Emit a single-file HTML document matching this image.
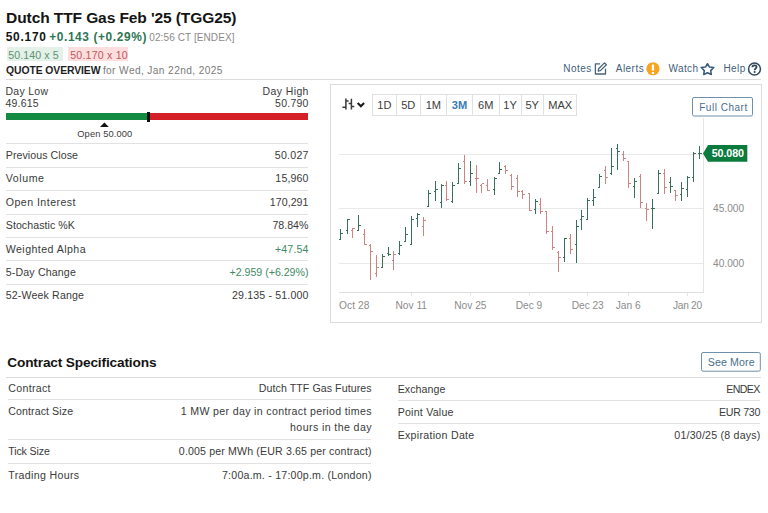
<!DOCTYPE html>
<html><head><meta charset="utf-8">
<style>
*{margin:0;padding:0;box-sizing:border-box}
html,body{width:768px;height:513px;overflow:hidden;background:#fff;font-family:"Liberation Sans",sans-serif}
.t{position:absolute;white-space:pre;line-height:1;}
.a{position:absolute}
svg{position:absolute;left:0;top:0}
</style></head><body>
<svg width="768" height="513" viewBox="0 0 768 513" shape-rendering="crispEdges">
<!-- bid/ask boxes -->
<rect x="7" y="47" width="55.5" height="14" fill="#e4f1e8"/>
<rect x="68" y="47" width="60" height="14" fill="#fbdfdf"/>
<!-- header separator -->
<rect x="5.5" y="79" width="755.5" height="1" fill="#dcdcdc"/>
<!-- left panel row lines -->
<g fill="#e2e2e2">
<rect x="5.5" y="143" width="302.5" height="1"/>
<rect x="5.5" y="166.5" width="302.5" height="1"/>
<rect x="5.5" y="190" width="302.5" height="1"/>
<rect x="5.5" y="213.5" width="302.5" height="1"/>
<rect x="5.5" y="236.8" width="302.5" height="1"/>
<rect x="5.5" y="260.2" width="302.5" height="1"/>
<rect x="5.5" y="283.6" width="302.5" height="1"/>
</g>
<!-- day range bar -->
<rect x="6" y="113" width="141.5" height="7" fill="#138a42"/>
<rect x="149" y="113" width="159" height="7" fill="#d31f26"/>
<rect x="147" y="112" width="2.5" height="9.5" fill="#111"/>
<!-- chart box -->
<rect x="330.5" y="84.5" width="431" height="238" fill="none" stroke="#dcdcdc" stroke-width="1"/>
<!-- toolbar -->
<rect x="372.5" y="94.5" width="204" height="21" fill="none" stroke="#e0e0e0"/>
<g fill="#e0e0e0">
<rect x="396" y="95" width="1" height="20"/>
<rect x="420" y="95" width="1" height="20"/>
<rect x="446" y="95" width="1" height="20"/>
<rect x="472" y="95" width="1" height="20"/>
<rect x="498.5" y="95" width="1" height="20"/>
<rect x="521" y="95" width="1" height="20"/>
<rect x="543" y="95" width="1" height="20"/>
</g>
<!-- gridlines -->
<g fill="#e9e9e9">
<rect x="339" y="153.5" width="364.5" height="1"/>
<rect x="339" y="208" width="364.5" height="1"/>
<rect x="339" y="263" width="364.5" height="1"/>
</g>
<rect x="339" y="292.2" width="365" height="1" fill="#dedede"/>
<rect x="703" y="118" width="1" height="175" fill="#e4e4e4"/>
<g fill="#e4e4e4">
<rect x="411" y="293" width="1" height="3"/>
<rect x="470" y="293" width="1" height="3"/>
<rect x="528.5" y="293" width="1" height="3"/>
<rect x="587.3" y="293" width="1" height="3"/>
<rect x="628" y="293" width="1" height="3"/>
<rect x="687" y="293" width="1" height="3"/>
</g>
<!-- spec lines -->
<rect x="5.5" y="376.5" width="755.5" height="1" fill="#dadada"/>
<g fill="#e2e2e2">
<rect x="8" y="399.3" width="362.5" height="1"/>
<rect x="8" y="439" width="362.5" height="1"/>
<rect x="8" y="462.8" width="362.5" height="1"/>
<rect x="397.5" y="399.6" width="362.5" height="1"/>
<rect x="397.5" y="423.2" width="362.5" height="1"/>
</g>
</svg>
<svg width="768" height="513" viewBox="0 0 768 513">
<!-- open triangle -->
<path d="M100 127L104.4 122.4L108.8 127Z" fill="#111"/>
<!-- Full chart button -->
<rect x="692.5" y="97.5" width="60" height="18.5" rx="1.5" fill="none" stroke="#6f8faa" stroke-width="1"/>
<!-- See more -->
<rect x="701.5" y="352.5" width="58.8" height="18.7" rx="1.5" fill="none" stroke="#6f8faa" stroke-width="1"/>
<!-- price tag -->
<path d="M703 153.4L708 145H747.3V161.8H708Z" fill="#0b7a3d"/>
<!-- bars -->
<g stroke-width="1" fill="none" shape-rendering="crispEdges">
<path d="M340.5 229.2V239.2M338.5 239.0H340.5M340.5 233.0H342.5" stroke="#38705a"/>
<path d="M347.5 218.8V233.8M345.5 230.5H347.5M347.5 219.7H349.5" stroke="#38705a"/>
<path d="M352.5 228.2V238.0M350.5 230.3H352.5M352.5 228.8H354.5" stroke="#cc8580"/>
<path d="M358.5 215.0V230.9M356.5 230.3H358.5M358.5 225.5H360.5" stroke="#38705a"/>
<path d="M364.5 228.8V244.7M362.5 234.5H364.5M364.5 244.2H366.5" stroke="#cc8580"/>
<path d="M370.5 244.0V279.6M368.5 245.3H370.5M370.5 251.5H372.5" stroke="#cc8580"/>
<path d="M376.5 254.7V276.6M374.5 273.2H376.5M376.5 267.3H378.5" stroke="#cc8580"/>
<path d="M382.5 253.9V267.6M380.5 267.6H382.5M382.5 256.2H384.5" stroke="#38705a"/>
<path d="M388.5 246.6V255.6M386.5 253.5H388.5M388.5 254.0H390.5" stroke="#38705a"/>
<path d="M393.5 251.3V269.7M391.5 260.5H393.5M393.5 254.7H395.5" stroke="#cc8580"/>
<path d="M399.5 241.4V254.7M397.5 253.0H399.5M399.5 245.0H401.5" stroke="#38705a"/>
<path d="M405.5 227.4V241.5M403.5 241.0H405.5M405.5 234.2H407.5" stroke="#38705a"/>
<path d="M411.5 216.1V244.2M409.5 244.0H411.5M411.5 219.4H413.5" stroke="#38705a"/>
<path d="M417.5 212.9V227.0M415.5 218.1H417.5M417.5 214.2H419.5" stroke="#38705a"/>
<path d="M423.5 216.5V235.6M421.5 226.4H423.5M423.5 220.0H425.5" stroke="#cc8580"/>
<path d="M428.5 190.2V206.2M426.5 206.2H428.5M428.5 193.1H430.5" stroke="#38705a"/>
<path d="M435.5 180.6V201.2M433.5 191.9H435.5M435.5 189.4H437.5" stroke="#38705a"/>
<path d="M441.5 184.0V208.1M439.5 202.2H441.5M441.5 185.6H443.5" stroke="#38705a"/>
<path d="M446.5 180.6V200.6M444.5 185.6H446.5M446.5 199.4H448.5" stroke="#cc8580"/>
<path d="M452.5 181.9V203.1M450.5 201.9H452.5M452.5 185.6H454.5" stroke="#38705a"/>
<path d="M458.5 162.5V184.4M456.5 183.8H458.5M458.5 168.5H460.5" stroke="#38705a"/>
<path d="M464.5 155.2V184.0M462.5 161.2H464.5M464.5 181.2H466.5" stroke="#cc8580"/>
<path d="M470.5 161.0V185.6M468.5 181.2H470.5M470.5 173.1H472.5" stroke="#38705a"/>
<path d="M476.5 164.8V192.5M474.5 178.1H476.5M476.5 178.5H478.5" stroke="#cc8580"/>
<path d="M481.5 183.5V192.5M479.5 185.0H481.5M481.5 183.8H483.5" stroke="#cc8580"/>
<path d="M487.5 179.4V191.2M485.5 185.0H487.5M487.5 190.6H489.5" stroke="#cc8580"/>
<path d="M494.5 176.9V195.0M492.5 189.8H494.5M494.5 178.1H496.5" stroke="#38705a"/>
<path d="M499.5 161.9V173.5M497.5 173.1H499.5M499.5 169.4H501.5" stroke="#38705a"/>
<path d="M505.5 165.0V174.0M503.5 166.5H505.5M505.5 170.5H507.5" stroke="#cc8580"/>
<path d="M511.5 174.4V190.0M509.5 175.0H511.5M511.5 186.0H513.5" stroke="#cc8580"/>
<path d="M517.5 175.0V197.2M515.5 178.5H517.5M517.5 191.0H519.5" stroke="#cc8580"/>
<path d="M522.5 190.0V198.5M520.5 191.2H522.5M522.5 194.0H524.5" stroke="#cc8580"/>
<path d="M529.5 193.1V210.6M527.5 193.5H529.5M529.5 210.0H531.5" stroke="#cc8580"/>
<path d="M535.5 199.4V213.8M533.5 209.4H535.5M535.5 201.9H537.5" stroke="#38705a"/>
<path d="M540.5 197.5V214.4M538.5 204.0H540.5M540.5 211.2H542.5" stroke="#cc8580"/>
<path d="M546.5 211.2V234.1M544.5 211.6H546.5M546.5 231.0H548.5" stroke="#cc8580"/>
<path d="M552.5 226.0V249.8M550.5 231.0H552.5M552.5 247.9H554.5" stroke="#cc8580"/>
<path d="M558.5 251.1V271.8M556.5 252.0H558.5M558.5 257.2H560.5" stroke="#cc8580"/>
<path d="M564.5 237.5V261.5M562.5 257.2H564.5M564.5 238.1H566.5" stroke="#38705a"/>
<path d="M570.5 233.5V253.5M568.5 238.5H570.5M570.5 249.1H572.5" stroke="#cc8580"/>
<path d="M576.5 220.4V262.9M574.5 244.8H576.5M576.5 226.6H578.5" stroke="#38705a"/>
<path d="M581.5 209.8V230.4M579.5 219.1H581.5M581.5 216.0H583.5" stroke="#38705a"/>
<path d="M587.5 197.5V219.8M585.5 219.8H587.5M587.5 200.0H589.5" stroke="#38705a"/>
<path d="M593.5 189.0V206.0M591.5 200.0H593.5M593.5 197.5H595.5" stroke="#38705a"/>
<path d="M599.5 174.4V188.1M597.5 187.2H599.5M599.5 176.2H601.5" stroke="#38705a"/>
<path d="M605.5 165.6V183.5M603.5 170.6H605.5M605.5 177.2H607.5" stroke="#cc8580"/>
<path d="M611.5 148.1V175.0M609.5 173.5H611.5M611.5 166.2H613.5" stroke="#38705a"/>
<path d="M617.5 144.0V170.0M615.5 148.5H617.5M617.5 151.2H619.5" stroke="#38705a"/>
<path d="M623.5 150.6V160.6M621.5 154.0H623.5M623.5 158.5H625.5" stroke="#cc8580"/>
<path d="M628.5 160.6V187.5M626.5 161.2H628.5M628.5 183.1H630.5" stroke="#cc8580"/>
<path d="M634.5 177.5V198.1M632.5 186.9H634.5M634.5 181.2H636.5" stroke="#38705a"/>
<path d="M640.5 173.5V208.1M638.5 176.2H640.5M640.5 202.5H642.5" stroke="#cc8580"/>
<path d="M646.5 203.1V221.2M644.5 208.8H646.5M646.5 209.0H648.5" stroke="#cc8580"/>
<path d="M652.5 198.8V228.5M650.5 208.5H652.5M652.5 208.4H654.5" stroke="#38705a"/>
<path d="M658.5 170.0V193.8M656.5 193.5H658.5M658.5 173.5H660.5" stroke="#38705a"/>
<path d="M664.5 168.8V194.0M662.5 173.1H664.5M664.5 187.2H666.5" stroke="#cc8580"/>
<path d="M670.5 176.9V193.1M668.5 182.5H670.5M670.5 186.5H672.5" stroke="#38705a"/>
<path d="M675.5 190.0V201.3M673.5 190.3H675.5M675.5 195.0H677.5" stroke="#cc8580"/>
<path d="M681.5 182.4V200.9M679.5 194.0H681.5M681.5 188.2H683.5" stroke="#38705a"/>
<path d="M687.5 176.3V197.2M685.5 189.3H687.5M687.5 177.7H689.5" stroke="#38705a"/>
<path d="M693.5 152.4V182.2M691.5 177.0H693.5M693.5 153.8H695.5" stroke="#38705a"/>
<path d="M699.5 145.8V158.5M697.5 153.8H699.5M699.5 153.1H701.5" stroke="#38705a"/>
</g>
<!-- chart type icon -->
<g stroke="#3a3a3a" stroke-width="1.5" fill="none">
<path d="M345.9 98.6V109.6M342.4 107.3H345.9M345.9 101.1H348.6"/>
<path d="M351.4 98.8V109.6M348.6 103.6H351.4M351.4 106.4H354.3"/>
</g>
<path d="M357.7 103.1L360.9 106.2L364.1 103.1" stroke="#1a1a1a" stroke-width="2.1" fill="none"/>
<!-- notes icon -->
<g stroke="#4a6479" stroke-width="1.3" fill="none" stroke-linejoin="round" stroke-linecap="round">
<path d="M599.6 63.9H595.4V74H605.5V69.2"/>
<path d="M598.2 71L598.6 68.8L604.5 62.9L606.4 64.8L600.4 70.6Z"/>
</g>
<!-- alert -->
<circle cx="652.95" cy="68.75" r="6.6" fill="#f7a51e"/>
<path d="M652.95 64.6V70.6" stroke="#fff" stroke-width="2.3"/>
<rect x="651.8" y="72" width="2.3" height="2" fill="#fff"/>
<!-- star -->
<path d="M707.5 63.7L709.5 67.1L713.8 67.4L710.7 70.6L711.3 74.5L707.5 72.7L703.7 74.5L704.3 70.6L701.2 67.4L705.5 67.1Z" fill="none" stroke="#3b5b78" stroke-width="1.55" stroke-linejoin="round"/>
<!-- help -->
<circle cx="754.5" cy="69" r="5.95" fill="none" stroke="#32495f" stroke-width="1.5"/>
<path d="M752.4 67.3C752.4 66.1 753.3 65.4 754.5 65.4C755.7 65.4 756.6 66.1 756.6 67.1C756.6 68.5 754.6 68.6 754.6 70.2" fill="none" stroke="#2c465c" stroke-width="1.75"/>
<circle cx="754.6" cy="72.1" r="1.0" fill="#2c465c"/>
</svg>
<div class="t" style="top:10.00px;font-size:15.55px;font-weight:700;color:#141414;letter-spacing:-0.115px;left:6.12px;">Dutch TTF Gas Feb &#x27;25 (TGG25)</div>
<div class="t" style="top:32.00px;font-size:11.92px;font-weight:700;color:#141414;letter-spacing:0.754px;left:5.70px;">50.170</div>
<div class="t" style="top:32.00px;font-size:11.92px;font-weight:700;color:#2d7553;letter-spacing:0.606px;left:49.20px;">+0.143 (+0.29%)</div>
<div class="t" style="top:33.00px;font-size:10.0px;font-weight:400;color:#8a8a8a;letter-spacing:0.097px;left:149.30px;">02:56 CT [ENDEX]</div>
<div class="t" style="top:50.00px;font-size:10.61px;font-weight:400;color:#5e9274;letter-spacing:0.078px;left:8.32px;">50.140 x 5</div>
<div class="t" style="top:50.00px;font-size:10.61px;font-weight:400;color:#c4565c;letter-spacing:0.191px;left:70.27px;">50.170 x 10</div>
<div class="t" style="top:66.00px;font-size:10.4px;font-weight:700;color:#1e1e1e;letter-spacing:-0.094px;left:6.08px;">QUOTE OVERVIEW</div>
<div class="t" style="top:66.00px;font-size:10.17px;font-weight:400;color:#7a7a7a;letter-spacing:0.385px;left:102.89px;">for Wed, Jan 22nd, 2025</div>
<div class="t" style="top:64.00px;font-size:10.0px;font-weight:400;color:#3f5f7a;letter-spacing:0.444px;left:563.30px;">Notes</div>
<div class="t" style="top:64.00px;font-size:10.0px;font-weight:400;color:#3f5f7a;letter-spacing:0.467px;left:615.75px;">Alerts</div>
<div class="t" style="top:64.00px;font-size:10.0px;font-weight:400;color:#3f5f7a;letter-spacing:0.433px;left:668.40px;">Watch</div>
<div class="t" style="top:64.00px;font-size:10.0px;font-weight:400;color:#3f5f7a;letter-spacing:0.441px;left:723.40px;">Help</div>
<div class="t" style="top:87.00px;font-size:10.47px;font-weight:400;color:#3a3a3a;letter-spacing:0.302px;left:5.48px;">Day Low</div>
<div class="t" style="top:99.00px;font-size:10.47px;font-weight:400;color:#3a3a3a;letter-spacing:0.223px;left:5.48px;">49.615</div>
<div class="t" style="top:87.00px;font-size:10.47px;font-weight:400;color:#3a3a3a;letter-spacing:0.398px;left:262.58px;">Day High</div>
<div class="t" style="top:99.00px;font-size:10.47px;font-weight:400;color:#3a3a3a;letter-spacing:0.263px;left:275.08px;">50.790</div>
<div class="t" style="top:130.00px;font-size:9.3px;font-weight:400;color:#3a3a3a;letter-spacing:0.126px;left:77.28px;">Open 50.000</div>
<div class="t" style="top:150.00px;font-size:10.61px;font-weight:400;color:#3a3a3a;letter-spacing:0.062px;left:5.77px;">Previous Close</div>
<div class="t" style="top:150.00px;font-size:10.61px;font-weight:400;color:#3a3a3a;letter-spacing:0.222px;left:274.87px;">50.027</div>
<div class="t" style="top:173.00px;font-size:10.61px;font-weight:400;color:#3a3a3a;letter-spacing:0.554px;left:5.77px;">Volume</div>
<div class="t" style="top:173.00px;font-size:10.61px;font-weight:400;color:#3a3a3a;letter-spacing:0.122px;left:275.37px;">15,960</div>
<div class="t" style="top:197.00px;font-size:10.61px;font-weight:400;color:#3a3a3a;letter-spacing:0.460px;left:5.77px;">Open Interest</div>
<div class="t" style="top:197.00px;font-size:10.61px;font-weight:400;color:#3a3a3a;letter-spacing:0.034px;left:269.87px;">170,291</div>
<div class="t" style="top:220.00px;font-size:10.61px;font-weight:400;color:#3a3a3a;letter-spacing:0.055px;left:5.77px;">Stochastic %K</div>
<div class="t" style="top:220.00px;font-size:10.61px;font-weight:400;color:#3a3a3a;left:272.47px;">78.84%</div>
<div class="t" style="top:244.00px;font-size:10.61px;font-weight:400;color:#3a3a3a;letter-spacing:0.436px;left:5.77px;">Weighted Alpha</div>
<div class="t" style="top:244.00px;font-size:10.61px;font-weight:400;color:#3f8a62;letter-spacing:0.142px;left:274.97px;">+47.54</div>
<div class="t" style="top:267.00px;font-size:10.61px;font-weight:400;color:#3a3a3a;letter-spacing:0.149px;left:5.77px;">5-Day Change</div>
<div class="t" style="top:267.00px;font-size:10.61px;font-weight:400;color:#3f8a62;letter-spacing:-0.017px;left:229.62px;">+2.959 (+6.29%)</div>
<div class="t" style="top:290.00px;font-size:10.61px;font-weight:400;color:#3a3a3a;letter-spacing:0.140px;left:5.77px;">52-Week Range</div>
<div class="t" style="top:290.00px;font-size:10.61px;font-weight:400;color:#3a3a3a;letter-spacing:0.145px;left:232.07px;">29.135 - 51.000</div>
<div class="t" style="top:103.00px;font-size:10.03px;font-weight:400;color:#4a6f8e;letter-spacing:0.509px;left:699.20px;">Full Chart</div>
<div class="t" style="top:301.00px;font-size:10.2px;font-weight:400;color:#8c8c8c;letter-spacing:0.061px;left:339.09px;">Oct 28</div>
<div class="t" style="top:301.00px;font-size:10.2px;font-weight:400;color:#8c8c8c;left:395.49px;">Nov 11</div>
<div class="t" style="top:301.00px;font-size:10.2px;font-weight:400;color:#8c8c8c;left:454.26px;">Nov 25</div>
<div class="t" style="top:301.00px;font-size:10.2px;font-weight:400;color:#8c8c8c;letter-spacing:-0.026px;left:515.74px;">Dec 9</div>
<div class="t" style="top:301.00px;font-size:10.2px;font-weight:400;color:#8c8c8c;letter-spacing:-0.052px;left:571.74px;">Dec 23</div>
<div class="t" style="top:301.00px;font-size:10.2px;font-weight:400;color:#8c8c8c;letter-spacing:0.025px;left:615.74px;">Jan 6</div>
<div class="t" style="top:301.00px;font-size:10.2px;font-weight:400;color:#8c8c8c;letter-spacing:-0.315px;left:673.09px;">Jan 20</div>
<div class="t" style="top:204.00px;font-size:10.2px;font-weight:400;color:#8c8c8c;left:712.99px;">45.000</div>
<div class="t" style="top:259.00px;font-size:10.2px;font-weight:400;color:#8c8c8c;left:712.99px;">40.000</div>
<div class="t" style="top:148.00px;font-size:10.76px;font-weight:700;color:#ffffff;letter-spacing:-0.103px;left:711.66px;">50.080</div>
<div class="t" style="top:100.00px;font-size:11.05px;font-weight:400;color:#3c3c3c;left:377.24px;">1D</div>
<div class="t" style="top:100.00px;font-size:11.05px;font-weight:400;color:#3c3c3c;left:401.19px;">5D</div>
<div class="t" style="top:100.00px;font-size:11.05px;font-weight:400;color:#3c3c3c;left:425.67px;">1M</div>
<div class="t" style="top:100.00px;font-size:11.05px;font-weight:700;color:#3a7bb5;left:451.77px;">3M</div>
<div class="t" style="top:100.00px;font-size:11.05px;font-weight:400;color:#3c3c3c;left:478.02px;">6M</div>
<div class="t" style="top:100.00px;font-size:11.05px;font-weight:400;color:#3c3c3c;left:503.34px;">1Y</div>
<div class="t" style="top:100.00px;font-size:11.05px;font-weight:400;color:#3c3c3c;left:525.39px;">5Y</div>
<div class="t" style="top:100.00px;font-size:11.05px;font-weight:400;color:#3c3c3c;left:548.22px;">MAX</div>
<div class="t" style="top:356.00px;font-size:13.66px;font-weight:700;color:#141414;letter-spacing:-0.148px;left:7.22px;">Contract Specifications</div>
<div class="t" style="top:383.00px;font-size:10.61px;font-weight:400;color:#3a3a3a;letter-spacing:0.315px;left:8.22px;">Contract</div>
<div class="t" style="top:406.00px;font-size:10.61px;font-weight:400;color:#3a3a3a;letter-spacing:0.094px;left:8.22px;">Contract Size</div>
<div class="t" style="top:446.00px;font-size:10.61px;font-weight:400;color:#3a3a3a;letter-spacing:-0.122px;left:8.22px;">Tick Size</div>
<div class="t" style="top:470.00px;font-size:10.61px;font-weight:400;color:#3a3a3a;letter-spacing:0.336px;left:8.22px;">Trading Hours</div>
<div class="t" style="top:383.00px;font-size:10.61px;font-weight:400;color:#3a3a3a;letter-spacing:0.071px;left:258.87px;">Dutch TTF Gas Futures</div>
<div class="t" style="top:406.00px;font-size:10.61px;font-weight:400;color:#3a3a3a;letter-spacing:0.337px;left:180.72px;">1 MW per day in contract period times</div>
<div class="t" style="top:422.00px;font-size:10.61px;font-weight:400;color:#3a3a3a;letter-spacing:0.397px;left:290.07px;">hours in the day</div>
<div class="t" style="top:446.00px;font-size:10.61px;font-weight:400;color:#3a3a3a;letter-spacing:0.143px;left:178.87px;">0.005 per MWh (EUR 3.65 per contract)</div>
<div class="t" style="top:470.00px;font-size:10.61px;font-weight:400;color:#3a3a3a;letter-spacing:0.223px;left:221.97px;">7:00a.m. - 17:00p.m. (London)</div>
<div class="t" style="top:384.00px;font-size:10.61px;font-weight:400;color:#3a3a3a;letter-spacing:0.065px;left:397.67px;">Exchange</div>
<div class="t" style="top:384.00px;font-size:10.61px;font-weight:400;color:#3a3a3a;letter-spacing:-0.625px;left:726.27px;">ENDEX</div>
<div class="t" style="top:407.00px;font-size:10.61px;font-weight:400;color:#3a3a3a;letter-spacing:0.228px;left:397.67px;">Point Value</div>
<div class="t" style="top:407.00px;font-size:10.61px;font-weight:400;color:#3a3a3a;letter-spacing:-0.300px;left:719.07px;">EUR 730</div>
<div class="t" style="top:430.00px;font-size:10.61px;font-weight:400;color:#3a3a3a;letter-spacing:0.287px;left:397.67px;">Expiration Date</div>
<div class="t" style="top:430.00px;font-size:10.61px;font-weight:400;color:#3a3a3a;letter-spacing:0.218px;left:674.27px;">01/30/25 (8 days)</div>
<div class="t" style="top:357.00px;font-size:10.61px;font-weight:400;color:#4a6f8e;letter-spacing:0.123px;left:707.77px;">See More</div>
</body></html>
